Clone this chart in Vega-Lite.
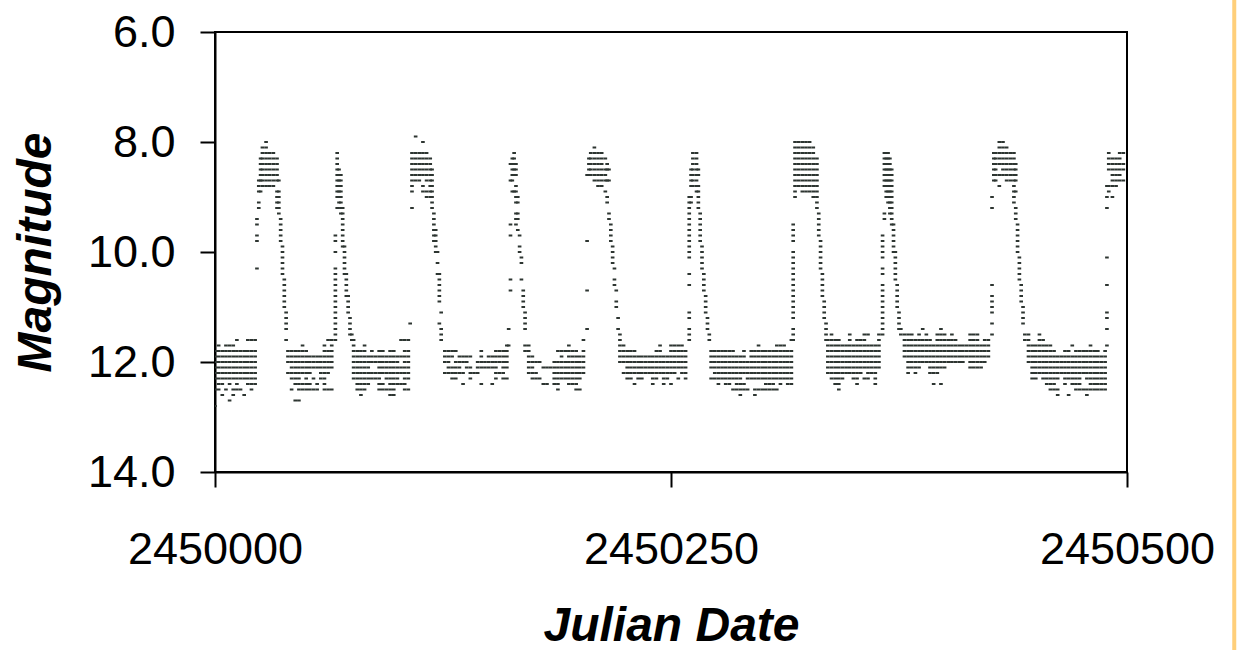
{
"$schema": "https://vega.github.io/schema/vega-lite/v6.json",
"width": 912,
"height": 440,
"autosize": {"type": "none"},
"padding": {"left": 215, "top": 32, "right": 110, "bottom": 178},
"background": "white",
"config": {"view": {"stroke": "#000", "strokeWidth": 2}, "font": "Liberation Sans"},
"layer": [
{
"data": {"values": "jd,mag\n2450000,11.8\n2450000,11.9\n2450000,12\n2450000,12.1\n2450000,12.2\n2450000,12.3\n2450000,12.5\n2450000,12.8\n2450002,11.7\n2450002,11.8\n2450002,11.9\n2450002,12\n2450002,12.1\n2450002,12.2\n2450002,12.3\n2450002,12.4\n2450002,12.5\n2450004,11.8\n2450004,11.9\n2450004,12\n2450004,12.1\n2450004,12.2\n2450004,12.3\n2450004,12.4\n2450004,12.6\n2450006,11.7\n2450006,11.8\n2450006,11.9\n2450006,12\n2450006,12.1\n2450006,12.2\n2450006,12.3\n2450006,12.5\n2450008,11.7\n2450008,11.8\n2450008,11.9\n2450008,12\n2450008,12.1\n2450008,12.2\n2450008,12.3\n2450008,12.4\n2450008,12.7\n2450010,11.7\n2450010,11.8\n2450010,11.9\n2450010,12\n2450010,12.1\n2450010,12.2\n2450010,12.3\n2450010,12.5\n2450010,12.6\n2450012,11.6\n2450012,11.8\n2450012,11.9\n2450012,12\n2450012,12.1\n2450012,12.2\n2450012,12.3\n2450012,12.4\n2450012,12.5\n2450014,11.8\n2450014,11.9\n2450014,12\n2450014,12.1\n2450014,12.2\n2450014,12.3\n2450014,12.5\n2450016,11.8\n2450016,11.9\n2450016,12\n2450016,12.1\n2450016,12.2\n2450016,12.3\n2450016,12.6\n2450018,11.6\n2450018,11.8\n2450018,11.9\n2450018,12\n2450018,12.1\n2450018,12.2\n2450018,12.3\n2450018,12.4\n2450020,11.6\n2450020,11.8\n2450020,11.9\n2450020,12\n2450020,12.1\n2450020,12.2\n2450020,12.3\n2450020,12.4\n2450020,12.5\n2450022,11.6\n2450022,11.8\n2450022,11.9\n2450022,12\n2450022,12.1\n2450022,12.2\n2450022,12.3\n2450022,12.4\n2450023,9.4\n2450023,9.5\n2450023,9.7\n2450023,9.8\n2450023,10.3\n2450024,8.7\n2450024,8.8\n2450024,8.9\n2450024,9.1\n2450024,9.2\n2450025,8.3\n2450025,8.4\n2450025,8.5\n2450025,8.6\n2450025,8.7\n2450025,8.9\n2450026,8.1\n2450026,8.2\n2450026,8.3\n2450026,8.4\n2450026,8.5\n2450026,8.6\n2450026,8.7\n2450026,8.8\n2450028,8\n2450028,8.1\n2450028,8.2\n2450028,8.3\n2450028,8.4\n2450028,8.5\n2450028,8.6\n2450028,8.7\n2450028,8.8\n2450030,8.2\n2450030,8.3\n2450030,8.4\n2450030,8.5\n2450030,8.6\n2450030,8.7\n2450030,8.8\n2450032,8.2\n2450032,8.3\n2450032,8.4\n2450032,8.5\n2450032,8.6\n2450032,8.7\n2450032,8.8\n2450034,8.3\n2450034,8.4\n2450034,8.5\n2450034,8.6\n2450034,8.7\n2450034,8.9\n2450034,9\n2450034,9.1\n2450034,9.2\n2450035,8.7\n2450035,8.9\n2450035,9\n2450035,9.1\n2450035,9.2\n2450035,9.3\n2450036,9.4\n2450036,9.5\n2450036,9.6\n2450036,9.7\n2450036,9.8\n2450037,9.9\n2450037,10\n2450037,10.1\n2450037,10.2\n2450037,10.3\n2450037,10.4\n2450038,10.5\n2450038,10.6\n2450038,10.7\n2450038,10.8\n2450038,10.9\n2450038,11\n2450039,11.1\n2450039,11.2\n2450039,11.3\n2450039,11.4\n2450039,11.6\n2450040,11.8\n2450040,11.9\n2450040,12\n2450040,12.2\n2450042,11.8\n2450042,11.9\n2450042,12\n2450042,12.1\n2450042,12.2\n2450042,12.3\n2450042,12.5\n2450044,11.8\n2450044,11.9\n2450044,12\n2450044,12.1\n2450044,12.2\n2450044,12.3\n2450044,12.4\n2450044,12.7\n2450046,11.8\n2450046,11.9\n2450046,12\n2450046,12.1\n2450046,12.2\n2450046,12.3\n2450046,12.4\n2450046,12.5\n2450046,12.7\n2450048,11.7\n2450048,11.8\n2450048,11.9\n2450048,12\n2450048,12.1\n2450048,12.2\n2450048,12.4\n2450048,12.5\n2450050,11.8\n2450050,11.9\n2450050,12\n2450050,12.1\n2450050,12.2\n2450050,12.3\n2450050,12.4\n2450050,12.5\n2450052,11.9\n2450052,12\n2450052,12.1\n2450052,12.2\n2450052,12.4\n2450052,12.5\n2450054,11.9\n2450054,12\n2450054,12.1\n2450054,12.3\n2450054,12.5\n2450056,11.9\n2450056,12\n2450056,12.1\n2450056,12.4\n2450056,12.5\n2450058,11.9\n2450058,12\n2450058,12.1\n2450058,12.2\n2450058,12.3\n2450060,11.7\n2450060,11.8\n2450060,11.9\n2450060,12\n2450060,12.1\n2450060,12.2\n2450060,12.3\n2450060,12.4\n2450060,12.5\n2450062,11.6\n2450062,11.8\n2450062,11.9\n2450062,12\n2450062,12.1\n2450062,12.2\n2450062,12.5\n2450064,11.6\n2450064,11.7\n2450064,11.8\n2450064,11.9\n2450064,12\n2450064,12.1\n2450064,12.5\n2450066,9.7\n2450066,9.8\n2450066,10\n2450066,10.3\n2450066,10.4\n2450066,10.5\n2450066,10.6\n2450066,10.7\n2450066,10.8\n2450066,10.9\n2450066,11\n2450066,11.1\n2450066,11.2\n2450066,11.3\n2450066,11.4\n2450066,11.5\n2450066,11.6\n2450067,8.2\n2450067,8.3\n2450067,8.4\n2450067,8.5\n2450067,8.6\n2450067,8.7\n2450067,8.8\n2450067,8.9\n2450067,9\n2450067,9.2\n2450068,8.5\n2450068,8.6\n2450068,8.7\n2450068,8.8\n2450068,8.9\n2450068,9\n2450068,9.1\n2450069,8.6\n2450069,8.7\n2450069,8.8\n2450069,8.9\n2450069,9\n2450069,9.1\n2450069,9.2\n2450069,9.3\n2450070,9.2\n2450070,9.3\n2450070,9.4\n2450070,9.5\n2450070,9.6\n2450070,9.7\n2450070,9.8\n2450070,9.9\n2450071,9.9\n2450071,10\n2450071,10.1\n2450071,10.2\n2450071,10.3\n2450071,10.4\n2450072,10.4\n2450072,10.5\n2450072,10.6\n2450072,10.7\n2450072,10.8\n2450073,10.8\n2450073,10.9\n2450073,11\n2450073,11.1\n2450074,11.2\n2450074,11.3\n2450074,11.4\n2450074,11.5\n2450075,11.5\n2450075,11.6\n2450076,11.6\n2450076,11.7\n2450076,11.8\n2450076,11.9\n2450076,12\n2450076,12.1\n2450076,12.2\n2450076,12.3\n2450078,11.8\n2450078,11.9\n2450078,12\n2450078,12.1\n2450078,12.2\n2450078,12.3\n2450078,12.4\n2450078,12.5\n2450080,11.8\n2450080,11.9\n2450080,12\n2450080,12.1\n2450080,12.2\n2450080,12.3\n2450080,12.4\n2450080,12.5\n2450080,12.6\n2450082,11.7\n2450082,11.8\n2450082,11.9\n2450082,12\n2450082,12.1\n2450082,12.2\n2450082,12.3\n2450082,12.4\n2450082,12.5\n2450084,11.9\n2450084,12\n2450084,12.1\n2450084,12.2\n2450084,12.3\n2450084,12.4\n2450086,11.8\n2450086,11.9\n2450086,12\n2450086,12.2\n2450086,12.3\n2450088,11.9\n2450088,12\n2450088,12.2\n2450088,12.3\n2450090,11.8\n2450090,11.9\n2450090,12\n2450090,12.1\n2450090,12.2\n2450090,12.3\n2450090,12.4\n2450090,12.5\n2450092,11.8\n2450092,11.9\n2450092,12\n2450092,12.1\n2450092,12.2\n2450092,12.4\n2450092,12.5\n2450094,11.9\n2450094,12\n2450094,12.1\n2450094,12.2\n2450094,12.3\n2450094,12.5\n2450096,11.8\n2450096,11.9\n2450096,12\n2450096,12.1\n2450096,12.2\n2450096,12.3\n2450096,12.4\n2450096,12.5\n2450096,12.6\n2450098,11.8\n2450098,11.9\n2450098,12\n2450098,12.1\n2450098,12.2\n2450098,12.3\n2450098,12.4\n2450098,12.5\n2450098,12.6\n2450100,11.9\n2450100,12\n2450100,12.1\n2450100,12.2\n2450100,12.3\n2450100,12.4\n2450102,11.6\n2450102,11.9\n2450102,12.1\n2450102,12.2\n2450102,12.4\n2450104,11.6\n2450104,11.8\n2450104,11.9\n2450104,12\n2450104,12.1\n2450104,12.2\n2450104,12.3\n2450104,12.4\n2450104,12.5\n2450106,11.6\n2450106,11.8\n2450106,11.9\n2450106,12\n2450106,12.1\n2450106,12.2\n2450106,12.3\n2450106,12.5\n2450107,11.3\n2450108,8.2\n2450108,8.3\n2450108,8.4\n2450108,8.5\n2450108,8.6\n2450108,8.7\n2450108,8.8\n2450108,8.9\n2450108,9.2\n2450110,7.9\n2450110,8.2\n2450110,8.3\n2450110,8.4\n2450110,8.5\n2450110,8.6\n2450110,8.7\n2450112,8.2\n2450112,8.3\n2450112,8.4\n2450112,8.5\n2450112,8.6\n2450112,8.7\n2450114,8\n2450114,8.2\n2450114,8.3\n2450114,8.4\n2450114,8.5\n2450114,8.6\n2450114,8.8\n2450114,8.9\n2450116,8.2\n2450116,8.3\n2450116,8.4\n2450116,8.5\n2450116,8.6\n2450116,8.7\n2450116,8.9\n2450116,9\n2450118,8.3\n2450118,8.4\n2450118,8.5\n2450118,8.6\n2450118,8.7\n2450118,8.8\n2450118,8.9\n2450118,9\n2450119,8.5\n2450119,8.6\n2450119,8.7\n2450119,8.8\n2450119,8.9\n2450119,9\n2450119,9.1\n2450119,9.2\n2450120,9.3\n2450120,9.4\n2450120,9.5\n2450120,9.6\n2450120,9.7\n2450120,9.8\n2450121,9.6\n2450121,9.7\n2450121,9.8\n2450121,9.9\n2450121,10\n2450122,10\n2450122,10.2\n2450122,10.4\n2450123,10.4\n2450123,10.5\n2450123,10.6\n2450123,10.7\n2450123,10.8\n2450123,10.9\n2450123,11.3\n2450124,11.1\n2450124,11.4\n2450124,11.5\n2450124,11.6\n2450126,11.8\n2450126,11.9\n2450126,12\n2450126,12.2\n2450128,11.8\n2450128,11.9\n2450128,12\n2450128,12.1\n2450128,12.2\n2450130,11.8\n2450130,11.9\n2450130,12.1\n2450130,12.2\n2450130,12.3\n2450132,11.8\n2450132,12\n2450132,12.1\n2450132,12.2\n2450132,12.3\n2450134,11.9\n2450134,12\n2450134,12.1\n2450134,12.2\n2450136,11.9\n2450136,12\n2450136,12.2\n2450136,12.4\n2450138,11.9\n2450138,12\n2450138,12.1\n2450140,11.9\n2450140,12.1\n2450140,12.2\n2450140,12.3\n2450142,12.2\n2450144,12\n2450144,12.1\n2450144,12.2\n2450146,11.8\n2450146,11.9\n2450146,12\n2450146,12.1\n2450146,12.4\n2450148,12\n2450148,12.1\n2450150,11.9\n2450150,12\n2450150,12.1\n2450152,11.9\n2450152,12\n2450152,12.1\n2450152,12.4\n2450154,11.8\n2450154,11.9\n2450154,12\n2450154,12.1\n2450154,12.2\n2450154,12.3\n2450156,11.8\n2450156,11.9\n2450156,12\n2450156,12.2\n2450158,11.8\n2450158,11.9\n2450158,12\n2450158,12.1\n2450158,12.2\n2450158,12.3\n2450160,11.7\n2450160,11.8\n2450160,11.9\n2450160,12\n2450160,12.1\n2450160,12.3\n2450161,11.4\n2450161,11.7\n2450162,8.4\n2450162,8.7\n2450162,9.5\n2450162,9.7\n2450162,10.5\n2450162,10.7\n2450163,8.3\n2450163,8.4\n2450163,8.5\n2450163,8.6\n2450163,8.7\n2450163,8.9\n2450164,8.2\n2450164,8.3\n2450164,8.4\n2450164,8.5\n2450164,8.6\n2450164,8.9\n2450165,8.4\n2450165,8.5\n2450165,8.6\n2450165,8.8\n2450165,8.9\n2450165,9\n2450165,9.1\n2450165,9.3\n2450165,9.4\n2450165,9.5\n2450166,9\n2450166,9.1\n2450166,9.3\n2450166,9.4\n2450166,9.6\n2450167,9.7\n2450167,9.9\n2450167,10\n2450168,10.1\n2450168,10.2\n2450168,10.5\n2450169,10.7\n2450169,10.8\n2450169,10.9\n2450169,11\n2450170,11.1\n2450170,11.2\n2450170,11.3\n2450170,11.4\n2450170,11.7\n2450170,11.8\n2450172,11.7\n2450172,11.8\n2450172,11.9\n2450172,12\n2450172,12.1\n2450172,12.2\n2450174,11.9\n2450174,12\n2450174,12.1\n2450174,12.2\n2450174,12.3\n2450176,12\n2450176,12.2\n2450176,12.3\n2450178,12\n2450178,12.3\n2450180,12.1\n2450180,12.4\n2450182,12.1\n2450182,12.4\n2450184,12.1\n2450186,12\n2450186,12.1\n2450186,12.2\n2450186,12.3\n2450186,12.4\n2450188,11.8\n2450188,12\n2450188,12.1\n2450188,12.2\n2450188,12.3\n2450188,12.4\n2450188,12.5\n2450190,11.8\n2450190,11.9\n2450190,12\n2450190,12.1\n2450190,12.2\n2450190,12.3\n2450192,11.8\n2450192,12\n2450192,12.1\n2450192,12.2\n2450192,12.3\n2450194,11.7\n2450194,11.8\n2450194,11.9\n2450194,12\n2450194,12.1\n2450194,12.2\n2450194,12.3\n2450194,12.4\n2450196,11.8\n2450196,11.9\n2450196,12\n2450196,12.1\n2450196,12.2\n2450196,12.3\n2450196,12.4\n2450198,11.8\n2450198,11.9\n2450198,12\n2450198,12.1\n2450198,12.2\n2450198,12.3\n2450198,12.4\n2450198,12.5\n2450200,11.9\n2450200,12\n2450200,12.1\n2450200,12.2\n2450200,12.3\n2450200,12.5\n2450202,11.6\n2450202,11.8\n2450202,11.9\n2450202,12\n2450202,12.1\n2450202,12.2\n2450204,8.6\n2450204,9.8\n2450204,10.7\n2450204,11.4\n2450205,8.3\n2450205,8.4\n2450205,8.5\n2450205,8.6\n2450206,8.2\n2450206,8.3\n2450206,8.4\n2450206,8.5\n2450206,8.6\n2450208,8.1\n2450208,8.2\n2450208,8.3\n2450208,8.4\n2450208,8.5\n2450208,8.6\n2450208,8.7\n2450210,8.2\n2450210,8.3\n2450210,8.4\n2450210,8.5\n2450210,8.6\n2450210,8.7\n2450210,8.8\n2450212,8.2\n2450212,8.3\n2450212,8.4\n2450212,8.5\n2450212,8.6\n2450212,8.7\n2450212,8.8\n2450214,8.3\n2450214,8.5\n2450214,8.6\n2450214,8.7\n2450214,8.9\n2450215,8.4\n2450215,8.5\n2450215,8.7\n2450215,9\n2450215,9.1\n2450216,8.5\n2450216,8.7\n2450216,9.3\n2450216,9.4\n2450217,9.5\n2450217,9.6\n2450217,9.7\n2450217,9.8\n2450218,9.9\n2450218,10\n2450218,10.1\n2450218,10.2\n2450219,10.3\n2450219,10.5\n2450219,10.6\n2450220,10.7\n2450220,10.9\n2450220,11\n2450221,11.2\n2450221,11.4\n2450222,11.5\n2450222,11.6\n2450222,11.7\n2450222,11.8\n2450222,11.9\n2450222,12\n2450224,11.7\n2450224,11.8\n2450224,11.9\n2450224,12\n2450224,12.2\n2450226,11.8\n2450226,11.9\n2450226,12\n2450226,12.1\n2450226,12.2\n2450226,12.3\n2450228,11.8\n2450228,11.9\n2450228,12\n2450228,12.1\n2450228,12.2\n2450228,12.3\n2450230,11.8\n2450230,11.9\n2450230,12\n2450230,12.1\n2450230,12.2\n2450230,12.4\n2450232,11.9\n2450232,12\n2450232,12.1\n2450232,12.2\n2450232,12.3\n2450234,11.9\n2450234,12\n2450234,12.1\n2450234,12.2\n2450234,12.3\n2450236,11.9\n2450236,12\n2450236,12.1\n2450236,12.2\n2450238,11.9\n2450238,12\n2450238,12.1\n2450238,12.2\n2450240,11.9\n2450240,12\n2450240,12.1\n2450240,12.2\n2450240,12.3\n2450240,12.4\n2450242,11.8\n2450242,11.9\n2450242,12\n2450242,12.1\n2450242,12.2\n2450242,12.3\n2450244,11.7\n2450244,11.8\n2450244,11.9\n2450244,12\n2450244,12.1\n2450244,12.2\n2450246,11.9\n2450246,12\n2450246,12.1\n2450246,12.2\n2450246,12.3\n2450246,12.4\n2450248,11.9\n2450248,12\n2450248,12.1\n2450248,12.2\n2450248,12.3\n2450250,11.7\n2450250,11.8\n2450250,11.9\n2450250,12\n2450250,12.1\n2450250,12.2\n2450250,12.4\n2450252,11.7\n2450252,11.8\n2450252,11.9\n2450252,12\n2450252,12.1\n2450252,12.2\n2450254,11.7\n2450254,11.8\n2450254,11.9\n2450254,12\n2450254,12.1\n2450254,12.3\n2450256,11.7\n2450256,11.8\n2450256,11.9\n2450256,12\n2450256,12.1\n2450256,12.2\n2450258,11.8\n2450258,11.9\n2450258,12\n2450258,12.1\n2450258,12.2\n2450258,12.3\n2450260,9\n2450260,9.1\n2450260,9.2\n2450260,9.3\n2450260,9.4\n2450260,9.5\n2450260,9.6\n2450260,9.7\n2450260,9.8\n2450260,9.9\n2450260,10\n2450260,10.1\n2450260,10.4\n2450260,10.6\n2450260,11.1\n2450260,11.2\n2450260,11.4\n2450260,11.5\n2450260,11.6\n2450261,8.5\n2450261,8.6\n2450261,8.7\n2450261,8.8\n2450261,9\n2450261,9.1\n2450262,8.2\n2450262,8.3\n2450262,8.4\n2450262,8.5\n2450262,8.6\n2450262,8.7\n2450262,8.8\n2450264,8.2\n2450264,8.3\n2450264,8.4\n2450264,8.5\n2450264,8.6\n2450264,8.7\n2450264,8.8\n2450264,8.9\n2450265,8.5\n2450265,8.6\n2450265,8.8\n2450265,8.9\n2450265,9\n2450265,9.1\n2450265,9.2\n2450266,9.3\n2450266,9.4\n2450266,9.5\n2450266,9.6\n2450266,9.7\n2450266,9.8\n2450267,9.9\n2450267,10\n2450267,10.1\n2450267,10.2\n2450267,10.3\n2450268,10.4\n2450268,10.5\n2450268,10.6\n2450268,10.7\n2450269,10.8\n2450269,10.9\n2450269,11\n2450269,11.1\n2450270,11.2\n2450270,11.3\n2450270,11.4\n2450271,11.5\n2450271,11.6\n2450272,11.8\n2450272,11.9\n2450272,12\n2450272,12.1\n2450272,12.3\n2450274,11.8\n2450274,11.9\n2450274,12\n2450274,12.1\n2450274,12.2\n2450274,12.3\n2450276,11.8\n2450276,11.9\n2450276,12\n2450276,12.1\n2450276,12.2\n2450276,12.3\n2450276,12.4\n2450278,11.8\n2450278,11.9\n2450278,12\n2450278,12.1\n2450278,12.2\n2450278,12.3\n2450280,11.8\n2450280,11.9\n2450280,12\n2450280,12.1\n2450280,12.2\n2450280,12.3\n2450280,12.4\n2450282,11.8\n2450282,11.9\n2450282,12\n2450282,12.1\n2450282,12.2\n2450282,12.3\n2450282,12.4\n2450284,11.8\n2450284,11.9\n2450284,12\n2450284,12.1\n2450284,12.2\n2450284,12.3\n2450284,12.5\n2450286,11.9\n2450286,12\n2450286,12.1\n2450286,12.2\n2450286,12.3\n2450286,12.4\n2450286,12.5\n2450288,11.9\n2450288,12\n2450288,12.1\n2450288,12.2\n2450288,12.3\n2450288,12.4\n2450288,12.5\n2450288,12.6\n2450290,11.8\n2450290,11.9\n2450290,12\n2450290,12.1\n2450290,12.2\n2450290,12.4\n2450290,12.5\n2450292,12\n2450292,12.1\n2450292,12.2\n2450292,12.3\n2450292,12.5\n2450294,11.8\n2450294,11.9\n2450294,12\n2450294,12.1\n2450294,12.2\n2450294,12.3\n2450296,11.8\n2450296,11.9\n2450296,12\n2450296,12.1\n2450296,12.2\n2450296,12.3\n2450296,12.5\n2450296,12.6\n2450298,11.7\n2450298,11.8\n2450298,11.9\n2450298,12\n2450298,12.1\n2450298,12.2\n2450298,12.3\n2450298,12.5\n2450300,11.8\n2450300,11.9\n2450300,12\n2450300,12.1\n2450300,12.2\n2450300,12.3\n2450300,12.5\n2450302,11.8\n2450302,11.9\n2450302,12\n2450302,12.1\n2450302,12.2\n2450302,12.3\n2450302,12.4\n2450302,12.5\n2450304,11.8\n2450304,11.9\n2450304,12\n2450304,12.1\n2450304,12.2\n2450304,12.3\n2450304,12.4\n2450304,12.5\n2450306,11.8\n2450306,11.9\n2450306,12\n2450306,12.1\n2450306,12.2\n2450306,12.3\n2450306,12.4\n2450306,12.5\n2450308,11.7\n2450308,11.8\n2450308,11.9\n2450308,12\n2450308,12.1\n2450308,12.2\n2450308,12.3\n2450308,12.5\n2450310,11.7\n2450310,11.8\n2450310,11.9\n2450310,12\n2450310,12.1\n2450310,12.2\n2450310,12.3\n2450310,12.4\n2450312,11.7\n2450312,11.8\n2450312,11.9\n2450312,12\n2450312,12.1\n2450312,12.2\n2450312,12.3\n2450314,11.8\n2450314,11.9\n2450314,12\n2450314,12.1\n2450314,12.2\n2450314,12.3\n2450314,12.4\n2450316,11.6\n2450316,11.8\n2450316,11.9\n2450316,12\n2450316,12.1\n2450316,12.2\n2450316,12.3\n2450316,12.4\n2450317,9.5\n2450317,9.6\n2450317,9.7\n2450317,9.8\n2450317,10\n2450317,10.1\n2450317,10.2\n2450317,10.3\n2450317,10.4\n2450317,10.5\n2450317,10.6\n2450317,10.7\n2450317,10.8\n2450317,10.9\n2450317,11\n2450317,11.1\n2450317,11.2\n2450317,11.4\n2450317,11.5\n2450317,11.6\n2450318,8\n2450318,8.1\n2450318,8.2\n2450318,8.3\n2450318,8.4\n2450318,8.5\n2450318,8.6\n2450318,8.7\n2450318,8.8\n2450318,8.9\n2450318,9\n2450320,8\n2450320,8.1\n2450320,8.2\n2450320,8.3\n2450320,8.4\n2450320,8.5\n2450320,8.6\n2450320,8.7\n2450320,8.8\n2450322,8\n2450322,8.1\n2450322,8.2\n2450322,8.3\n2450322,8.4\n2450322,8.5\n2450322,8.6\n2450322,8.7\n2450322,8.8\n2450322,8.9\n2450324,8\n2450324,8.1\n2450324,8.2\n2450324,8.3\n2450324,8.4\n2450324,8.5\n2450324,8.6\n2450324,8.7\n2450324,8.8\n2450324,8.9\n2450326,8\n2450326,8.1\n2450326,8.2\n2450326,8.3\n2450326,8.4\n2450326,8.5\n2450326,8.6\n2450326,8.7\n2450326,8.8\n2450326,8.9\n2450328,8.1\n2450328,8.2\n2450328,8.3\n2450328,8.4\n2450328,8.5\n2450328,8.6\n2450328,8.7\n2450328,8.8\n2450328,8.9\n2450328,9\n2450330,8.3\n2450330,8.4\n2450330,8.5\n2450330,8.6\n2450330,8.7\n2450330,8.8\n2450330,8.9\n2450330,9\n2450330,9.1\n2450330,9.2\n2450331,9.3\n2450331,9.4\n2450331,9.5\n2450331,9.6\n2450331,9.7\n2450332,9.8\n2450332,9.9\n2450332,10\n2450332,10.1\n2450332,10.2\n2450332,10.3\n2450333,10.4\n2450333,10.5\n2450333,10.6\n2450333,10.7\n2450333,10.8\n2450334,10.9\n2450334,11\n2450334,11.1\n2450334,11.2\n2450335,11.3\n2450335,11.4\n2450335,11.5\n2450335,11.6\n2450336,11.6\n2450336,11.7\n2450336,11.8\n2450336,11.9\n2450336,12\n2450336,12.1\n2450336,12.2\n2450338,11.5\n2450338,11.6\n2450338,11.7\n2450338,11.8\n2450338,11.9\n2450338,12\n2450338,12.1\n2450338,12.2\n2450338,12.3\n2450340,11.6\n2450340,11.7\n2450340,11.8\n2450340,11.9\n2450340,12\n2450340,12.1\n2450340,12.2\n2450340,12.3\n2450340,12.4\n2450342,11.6\n2450342,11.7\n2450342,11.8\n2450342,11.9\n2450342,12\n2450342,12.1\n2450342,12.2\n2450342,12.3\n2450342,12.4\n2450342,12.5\n2450344,11.7\n2450344,11.8\n2450344,11.9\n2450344,12\n2450344,12.1\n2450344,12.2\n2450344,12.3\n2450346,11.7\n2450346,11.8\n2450346,11.9\n2450346,12\n2450346,12.1\n2450346,12.2\n2450348,11.5\n2450348,11.6\n2450348,11.7\n2450348,11.8\n2450348,11.9\n2450348,12\n2450348,12.1\n2450348,12.2\n2450350,11.7\n2450350,11.8\n2450350,11.9\n2450350,12\n2450350,12.1\n2450350,12.2\n2450350,12.3\n2450352,11.6\n2450352,11.7\n2450352,11.8\n2450352,11.9\n2450352,12\n2450352,12.1\n2450352,12.2\n2450352,12.3\n2450352,12.4\n2450354,11.6\n2450354,11.7\n2450354,11.8\n2450354,11.9\n2450354,12\n2450354,12.1\n2450354,12.2\n2450356,11.5\n2450356,11.6\n2450356,11.7\n2450356,11.8\n2450356,11.9\n2450356,12\n2450356,12.1\n2450356,12.3\n2450358,11.5\n2450358,11.7\n2450358,11.8\n2450358,11.9\n2450358,12\n2450358,12.1\n2450358,12.2\n2450358,12.3\n2450360,11.7\n2450360,11.8\n2450360,11.9\n2450360,12\n2450360,12.1\n2450360,12.2\n2450362,11.7\n2450362,11.8\n2450362,11.9\n2450362,12\n2450362,12.1\n2450362,12.2\n2450362,12.3\n2450362,12.4\n2450364,11.5\n2450364,11.6\n2450364,11.7\n2450364,11.8\n2450364,11.9\n2450364,12\n2450364,12.1\n2450366,9.7\n2450366,9.8\n2450366,9.9\n2450366,10\n2450366,10.1\n2450366,10.3\n2450366,10.4\n2450366,10.6\n2450366,10.7\n2450366,10.8\n2450366,10.9\n2450366,11\n2450366,11.1\n2450366,11.2\n2450366,11.3\n2450366,11.4\n2450366,11.5\n2450367,8.2\n2450367,8.3\n2450367,8.4\n2450367,8.5\n2450367,8.6\n2450367,8.7\n2450367,8.8\n2450367,9.3\n2450367,9.4\n2450368,8.2\n2450368,8.3\n2450368,8.4\n2450368,8.5\n2450368,8.6\n2450368,8.7\n2450368,8.8\n2450368,8.9\n2450368,9\n2450369,8.2\n2450369,8.3\n2450369,8.4\n2450369,8.5\n2450369,8.6\n2450369,8.7\n2450369,8.8\n2450369,8.9\n2450369,9\n2450369,9.1\n2450370,8.3\n2450370,8.4\n2450370,8.5\n2450370,8.6\n2450370,8.7\n2450370,8.8\n2450370,8.9\n2450370,9\n2450370,9.1\n2450370,9.2\n2450370,9.3\n2450371,8.5\n2450371,8.6\n2450371,8.7\n2450371,8.8\n2450371,8.9\n2450371,9\n2450371,9.1\n2450371,9.2\n2450371,9.3\n2450371,9.4\n2450371,9.5\n2450372,9.5\n2450372,9.6\n2450372,9.7\n2450372,9.8\n2450372,9.9\n2450372,10\n2450373,10\n2450373,10.1\n2450373,10.2\n2450373,10.3\n2450373,10.4\n2450373,10.5\n2450374,10.6\n2450374,10.7\n2450374,10.8\n2450374,10.9\n2450374,11\n2450375,11.1\n2450375,11.2\n2450375,11.3\n2450375,11.4\n2450376,11.4\n2450376,11.5\n2450378,11.5\n2450378,11.6\n2450378,11.7\n2450378,11.8\n2450378,11.9\n2450380,11.5\n2450380,11.6\n2450380,11.7\n2450380,11.8\n2450380,11.9\n2450380,12\n2450380,12.1\n2450380,12.2\n2450382,11.5\n2450382,11.6\n2450382,11.7\n2450382,11.8\n2450382,11.9\n2450382,12\n2450382,12.1\n2450384,11.6\n2450384,11.7\n2450384,11.8\n2450384,11.9\n2450384,12\n2450384,12.1\n2450384,12.2\n2450386,11.5\n2450386,11.6\n2450386,11.7\n2450386,11.8\n2450386,11.9\n2450386,12\n2450386,12.1\n2450388,11.4\n2450388,11.6\n2450388,11.7\n2450388,11.8\n2450388,11.9\n2450388,12\n2450390,11.5\n2450390,11.6\n2450390,11.7\n2450390,11.8\n2450390,11.9\n2450390,12\n2450392,11.6\n2450392,11.7\n2450392,11.8\n2450392,11.9\n2450392,12\n2450392,12.1\n2450392,12.2\n2450394,11.7\n2450394,11.8\n2450394,11.9\n2450394,12\n2450394,12.1\n2450394,12.2\n2450394,12.4\n2450396,11.5\n2450396,11.6\n2450396,11.7\n2450396,11.8\n2450396,11.9\n2450396,12\n2450396,12.1\n2450396,12.2\n2450398,11.4\n2450398,11.5\n2450398,11.6\n2450398,11.7\n2450398,11.8\n2450398,11.9\n2450398,12\n2450398,12.1\n2450398,12.4\n2450400,11.5\n2450400,11.6\n2450400,11.7\n2450400,11.8\n2450400,11.9\n2450400,12\n2450400,12.1\n2450402,11.6\n2450402,11.7\n2450402,11.8\n2450402,11.9\n2450402,12\n2450404,11.5\n2450404,11.6\n2450404,11.7\n2450404,11.8\n2450404,11.9\n2450404,12\n2450406,11.6\n2450406,11.7\n2450406,11.8\n2450406,11.9\n2450406,12\n2450408,11.7\n2450408,11.8\n2450408,11.9\n2450408,12\n2450410,11.7\n2450410,11.8\n2450410,11.9\n2450410,12\n2450412,11.7\n2450412,11.8\n2450412,11.9\n2450414,11.5\n2450414,11.6\n2450414,11.7\n2450414,11.8\n2450414,11.9\n2450414,12\n2450414,12.1\n2450416,11.5\n2450416,11.6\n2450416,11.7\n2450416,11.8\n2450416,11.9\n2450416,12\n2450416,12.1\n2450418,11.5\n2450418,11.6\n2450418,11.7\n2450418,11.8\n2450418,11.9\n2450418,12\n2450418,12.1\n2450420,11.7\n2450420,11.8\n2450420,11.9\n2450420,12\n2450420,12.1\n2450422,11.6\n2450422,11.7\n2450422,11.8\n2450422,11.9\n2450422,12\n2450424,11.6\n2450424,11.7\n2450424,11.8\n2450424,11.9\n2450426,9\n2450426,9.2\n2450426,10.6\n2450426,10.8\n2450426,10.9\n2450426,11\n2450426,11.1\n2450426,11.3\n2450426,11.5\n2450427,8.2\n2450427,8.3\n2450427,8.4\n2450427,8.5\n2450427,8.6\n2450427,8.7\n2450428,8.2\n2450428,8.3\n2450428,8.4\n2450428,8.5\n2450428,8.6\n2450428,8.7\n2450430,8\n2450430,8.1\n2450430,8.2\n2450430,8.3\n2450430,8.4\n2450430,8.6\n2450430,8.8\n2450432,8\n2450432,8.1\n2450432,8.2\n2450432,8.3\n2450432,8.4\n2450432,8.5\n2450432,8.6\n2450434,8.1\n2450434,8.2\n2450434,8.3\n2450434,8.4\n2450434,8.5\n2450434,8.6\n2450434,8.7\n2450436,8.2\n2450436,8.3\n2450436,8.4\n2450436,8.5\n2450436,8.6\n2450436,8.7\n2450438,8.2\n2450438,8.3\n2450438,8.4\n2450438,8.5\n2450438,8.6\n2450438,8.7\n2450438,8.8\n2450438,8.9\n2450438,9\n2450438,9.1\n2450439,8.4\n2450439,8.5\n2450439,8.6\n2450439,8.7\n2450439,8.9\n2450439,9.2\n2450439,9.3\n2450439,9.4\n2450440,9.5\n2450440,9.6\n2450440,9.7\n2450440,9.8\n2450440,9.9\n2450440,10\n2450441,10.1\n2450441,10.2\n2450441,10.3\n2450441,10.4\n2450441,10.5\n2450442,10.6\n2450442,10.7\n2450442,10.8\n2450442,10.9\n2450443,11\n2450443,11.1\n2450443,11.2\n2450443,11.3\n2450444,11.5\n2450444,11.6\n2450446,11.5\n2450446,11.6\n2450446,11.7\n2450446,11.8\n2450446,11.9\n2450446,12\n2450448,11.7\n2450448,11.8\n2450448,11.9\n2450448,12\n2450448,12.1\n2450448,12.2\n2450448,12.3\n2450450,11.7\n2450450,11.8\n2450450,11.9\n2450450,12\n2450450,12.1\n2450450,12.2\n2450450,12.3\n2450452,11.5\n2450452,11.6\n2450452,11.7\n2450452,11.8\n2450452,11.9\n2450452,12\n2450452,12.1\n2450452,12.2\n2450454,11.6\n2450454,11.7\n2450454,11.8\n2450454,11.9\n2450454,12\n2450454,12.1\n2450454,12.2\n2450454,12.3\n2450456,11.7\n2450456,11.8\n2450456,11.9\n2450456,12\n2450456,12.1\n2450456,12.2\n2450456,12.3\n2450456,12.4\n2450458,11.7\n2450458,11.8\n2450458,11.9\n2450458,12\n2450458,12.1\n2450458,12.2\n2450458,12.3\n2450458,12.4\n2450458,12.5\n2450460,11.8\n2450460,11.9\n2450460,12\n2450460,12.1\n2450460,12.2\n2450460,12.3\n2450460,12.4\n2450460,12.5\n2450462,11.9\n2450462,12\n2450462,12.1\n2450462,12.2\n2450462,12.3\n2450462,12.5\n2450462,12.6\n2450464,11.9\n2450464,12\n2450464,12.1\n2450464,12.2\n2450466,11.8\n2450466,11.9\n2450466,12\n2450466,12.1\n2450466,12.2\n2450466,12.3\n2450466,12.4\n2450468,11.8\n2450468,11.9\n2450468,12\n2450468,12.1\n2450468,12.2\n2450468,12.3\n2450468,12.6\n2450470,11.7\n2450470,11.9\n2450470,12\n2450470,12.1\n2450470,12.2\n2450470,12.3\n2450470,12.4\n2450472,11.8\n2450472,11.9\n2450472,12\n2450472,12.1\n2450472,12.2\n2450472,12.3\n2450472,12.4\n2450472,12.5\n2450474,11.8\n2450474,11.9\n2450474,12\n2450474,12.1\n2450474,12.2\n2450474,12.3\n2450474,12.4\n2450474,12.5\n2450476,11.8\n2450476,11.9\n2450476,12\n2450476,12.1\n2450476,12.2\n2450476,12.5\n2450478,11.8\n2450478,11.9\n2450478,12\n2450478,12.1\n2450478,12.2\n2450478,12.3\n2450478,12.5\n2450478,12.6\n2450480,11.7\n2450480,11.8\n2450480,11.9\n2450480,12\n2450480,12.1\n2450480,12.2\n2450480,12.3\n2450480,12.4\n2450480,12.5\n2450482,11.8\n2450482,11.9\n2450482,12\n2450482,12.1\n2450482,12.2\n2450482,12.3\n2450482,12.4\n2450482,12.5\n2450484,11.8\n2450484,11.9\n2450484,12\n2450484,12.1\n2450484,12.2\n2450484,12.3\n2450484,12.4\n2450484,12.5\n2450486,11.9\n2450486,12\n2450486,12.1\n2450486,12.2\n2450486,12.3\n2450486,12.4\n2450486,12.5\n2450488,11.8\n2450488,11.9\n2450488,12\n2450488,12.1\n2450488,12.2\n2450488,12.3\n2450488,12.4\n2450488,12.5\n2450489,8.8\n2450489,9\n2450489,9.2\n2450489,10.1\n2450489,10.6\n2450489,11.1\n2450489,11.2\n2450489,11.4\n2450489,11.7\n2450490,8.2\n2450490,8.3\n2450490,8.4\n2450490,8.5\n2450490,8.8\n2450490,8.9\n2450492,8.3\n2450492,8.4\n2450492,8.5\n2450492,8.6\n2450492,8.7\n2450492,8.8\n2450492,9\n2450494,8.3\n2450494,8.4\n2450494,8.5\n2450494,8.6\n2450494,8.7\n2450494,8.8\n2450496,8.2\n2450496,8.3\n2450496,8.4\n2450496,8.5\n2450496,8.6\n2450496,8.7\n2450498,8.2\n2450498,8.4\n2450498,8.5\n2450498,8.7", "format": {"type": "csv", "parse": {"jd": "number", "mag": "number"}}},
"mark": {"type": "point", "shape": "M-1,-0.55H1V0.55H-1Z", "size": 13.3, "filled": true, "color": "#2d3531", "opacity": 1, "strokeWidth": 0, "clip": true},
"encoding": {
"x": {"field": "jd", "type": "quantitative", "scale": {"domain": [2450000, 2450500], "nice": false, "zero": false},
"axis": {"values": [2450000, 2450250, 2450500], "format": "d", "title": "Julian Date", "titleFont": "Liberation Sans", "titleFontSize": 48, "titleFontWeight": "bold", "titleFontStyle": "italic", "titleColor": "#000", "titlePadding": 30, "labelFont": "Liberation Sans", "labelFontSize": 45, "labelColor": "#000", "labelPadding": 40, "labelFlush": false, "labelOverlap": false, "tickSize": 15, "tickColor": "#000", "tickWidth": 2, "domainColor": "#000", "domainWidth": 2, "grid": false}},
"y": {"field": "mag", "type": "quantitative", "scale": {"domain": [6, 14], "reverse": true, "nice": false, "zero": false},
"axis": {"values": [6, 8, 10, 12, 14], "format": ".1f", "title": "Magnitude", "titleFont": "Liberation Sans", "titleFontSize": 48, "titleFontWeight": "bold", "titleFontStyle": "italic", "titleColor": "#000", "titlePadding": 27, "labelFont": "Liberation Sans", "labelFontSize": 45, "labelColor": "#000", "labelPadding": 25, "labelFlush": false, "labelOverlap": false, "tickSize": 15, "tickColor": "#000", "tickWidth": 2, "domainColor": "#000", "domainWidth": 2, "grid": false}}
}
},
{
"data": {"values": [{"edge": 2450558.8}]},
"mark": {"type": "rule", "color": "#FFCF7A", "strokeWidth": 4, "clip": false},
"encoding": {"x": {"field": "edge", "type": "quantitative"}, "y": {"datum": 5.3, "type": "quantitative"}, "y2": {"datum": 17.4}}
}
]
}
